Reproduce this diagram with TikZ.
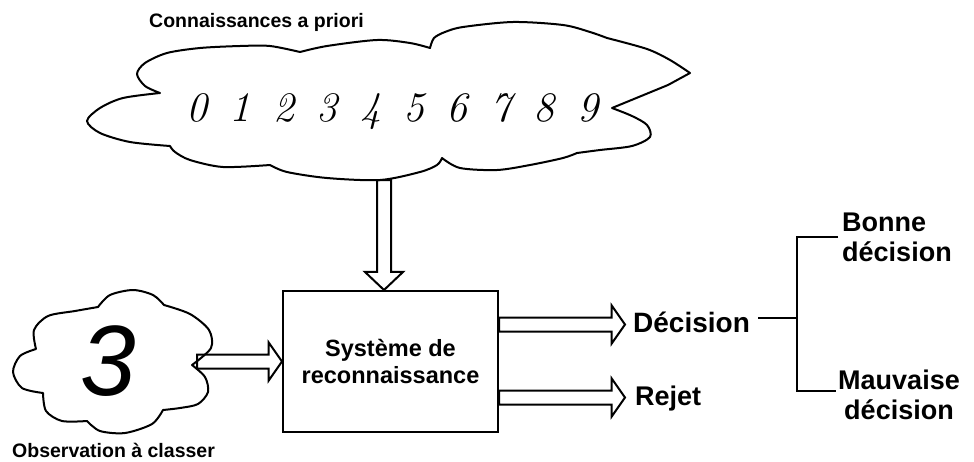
\documentclass[tikz,border=0pt]{standalone}
\usepackage{fontspec}
\usetikzlibrary{calc,shapes.arrows}
\newfontfamily\labelfont{Liberation Sans}

\tikzset{
  cloudline/.style={line width=2pt, line join=round, line cap=round},
  hand/.style={font=\fontsize{42}{42}\selectfont\itshape, inner sep=0pt, anchor=base},
  smalllbl/.style={font=\labelfont\bfseries\fontsize{19.5}{22}\selectfont, inner sep=0pt, anchor=base west},
  outlbl/.style={font=\labelfont\bfseries\fontsize{27}{30}\selectfont, inner sep=0pt},
  fathead/.style={single arrow, draw, line width=2pt, inner xsep=0pt, inner ysep=6pt,
    outer sep=0pt, single arrow head extend=12pt, single arrow tip angle=#1},
  fat/.style={to path={let \p1=(\tikztostart), \p2=(\tikztotarget),
    \n1={veclen(\x2-\x1,\y2-\y1)}, \n2={atan2(\y2-\y1,\x2-\x1)} in
    node[fathead=#1, minimum height=\n1, rotate=\n2, anchor=tail] at (\p1) {}}},
  fat/.default=110
}

\begin{document}
\begin{tikzpicture}[x=1pt,y=-1pt]
  \useasboundingbox (0,0) rectangle (974,461);

  % nuage des connaissances
  \node[smalllbl] (prior) at (149,27) {Connaissances a priori};
  \draw[cloudline]
    plot[smooth] coordinates {(160,93) (145,86) (137,74) (145,63) (167,53) (200,48) (240,46) (270,46) (300,52)}
    -- plot[smooth] coordinates {(300,52) (327,46) (377,40) (410,43) (430,48)}
    -- plot[smooth] coordinates {(430,48) (434,38) (445,32) (463,27) (513,22) (563,25) (590,32) (607,38)}
    -- plot[smooth] coordinates {(607,38) (647,49) (670,60) (690,73)}
    -- (668,85) -- (612,108)
    -- plot[smooth] coordinates {(612,108) (632,116) (647,125) (650,137) (632,146) (600,150) (577,153)}
    -- plot[smooth] coordinates {(577,153) (563,158) (530,165) (497,170) (460,168) (442,158)}
    -- plot[smooth] coordinates {(442,158) (437,165) (420,172) (380,180) (327,178) (287,172) (270,165)}
    -- plot[smooth] coordinates {(270,165) (223,167) (190,160) (175,152) (170,146)}
    -- plot[smooth] coordinates {(170,146) (130,142) (100,133) (87,121) (100,108) (123,98) (160,93)};
  \foreach \d in {0,...,9}
    \node[hand] (d\d) at ({197+43.4*\d},121) {\d};
  \coordinate (kb-out) at (384,180);

  % observation
  \draw[cloudline]
    plot[smooth] coordinates {(192,365) (205,377) (208,392) (198,404) (180,408) (163,410)}
    -- plot[smooth] coordinates {(163,410) (152,424) (125,433) (100,431) (87,421)}
    -- plot[smooth] coordinates {(87,421) (62,421) (46,411) (43,393)}
    -- plot[smooth] coordinates {(43,393) (22,388) (13,372) (20,356) (36,349)}
    -- plot[smooth] coordinates {(36,349) (34,330) (48,316) (75,311) (98,307)}
    -- plot[smooth] coordinates {(98,307) (110,295) (133,290) (153,295) (164,305)}
    -- plot[smooth] coordinates {(164,305) (190,314) (209,330) (211,348) (192,365)};
  \node[font=\labelfont\itshape\fontsize{100}{100}\selectfont, inner sep=0pt] (obs) at (108,361) {3};
  \node[smalllbl] (obs-lbl) at (12,457) {Observation à classer};
  \coordinate (obs-out) at (197,361.5);

  % systeme
  \node[draw, line width=2pt, minimum width=215pt, minimum height=141pt, align=center,
    font=\labelfont\bfseries\fontsize{23.5}{27}\selectfont] (sys) at (390.5,361.5)
    {Système de\\reconnaissance};

  % sorties
  \node[outlbl, font=\labelfont\bfseries\fontsize{28}{30}\selectfont, inner xsep=8pt,
    anchor=base west] (dec) at (625,332) {Décision};
  \node[outlbl, anchor=base west] (rej) at (635,405) {Rejet};
  \node[outlbl, align=left, anchor=north west] (bon) at (842,213) {Bonne\\décision};
  \node[outlbl, align=center, anchor=north] (mau) at (899,370) {Mauvaise\\décision};
  \coordinate (t-dec) at (625,324.5);
  \coordinate (t-rej) at (625,397.5);
  \coordinate (fork) at (797,318);
  \coordinate (bon-in) at (838,237);
  \coordinate (mau-in) at (836,391);

  \path (kb-out) to[fat=93] (kb-out |- sys.north);
  \path (obs-out) to[fat] (obs-out -| sys.west);
  \path (sys.east |- t-dec) to[fat] (t-dec);
  \path (sys.east |- t-rej) to[fat] (t-rej);

  \draw[line width=1.6pt] (dec.east |- fork) -- (fork);
  \draw[line width=1.6pt] (bon-in) -| (fork) |- (mau-in);
\end{tikzpicture}
\end{document}
